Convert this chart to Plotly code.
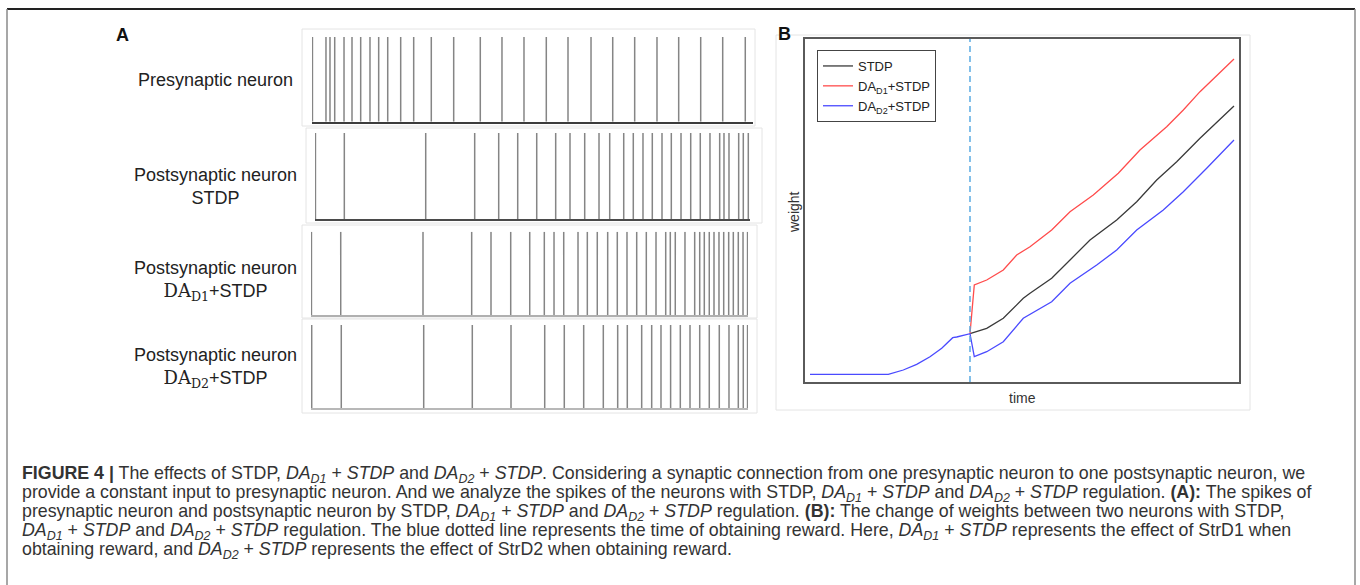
import plotly.graph_objects as go

W, H = 1360, 585

# ---------------- Panel A: spike rasters (time in % of each strip) ----------------
pre_spikes = [0.1, 3.17, 4.08, 5.15, 7.26, 9.07, 11.04, 13.15, 15.12, 17.17, 20.11, 23.06,
              27.05, 32.13, 38.16, 43.08, 48.07, 53.13, 58.05, 63.27, 68.19, 73.17, 78.23,
              83.15, 88.14, 93.13, 98.25]
post_stdp_spikes = [0.1, 6.74, 25.45, 36.71, 42.23, 46.60, 50.97, 55.33, 58.62, 62.00, 65.29,
                    67.75, 70.97, 73.17, 75.40, 77.54, 79.77, 81.91, 84.14, 86.37, 88.57,
                    90.80, 93.03, 94.02, 95.17, 97.40, 98.46, 99.61]
post_d1_spikes = [0.1, 6.80, 25.63, 36.77, 41.19, 45.70, 50.05, 53.39, 55.61, 57.83, 61.10,
                  63.23, 65.51, 67.89, 70.09, 72.31, 74.53, 76.73, 78.95, 81.17, 82.22, 83.36,
                  85.58, 87.80, 88.95, 90.00, 91.14, 92.22, 93.36, 94.44, 95.58, 96.64,
                  97.78, 98.86, 99.9]
post_d2_spikes = [0.16, 6.93, 25.79, 36.91, 45.77, 53.48, 57.96, 62.40, 66.89, 70.18, 72.38,
                  75.67, 77.96, 80.09, 82.29, 84.51, 86.73, 88.95, 91.14, 93.43, 95.65,
                  97.78, 98.92, 99.9]

raster_labels = [
    "Presynaptic neuron",
    "Postsynaptic neuron<br>STDP",
    "Postsynaptic neuron<br><span style=\"font-family:'DejaVu Serif'\">DA<sub>D1</sub></span>+STDP",
    "Postsynaptic neuron<br><span style=\"font-family:'DejaVu Serif'\">DA<sub>D2</sub></span>+STDP",
]

# ---------------- Panel B: weight vs time ----------------
time_pre = [1.15, 19.18, 22.63, 25.72, 28.78, 31.48, 34.01, 34.93, 37.99]
weight_pre = [2.24, 2.24, 3.50, 5.16, 7.38, 9.83, 12.92, 13.12, 14.08]

time_stdp = [41.84, 45.66, 50.26, 51.81, 56.80, 61.02, 65.62, 71.77, 76.38, 80.98, 85.59, 90.95, 98.78]
weight_stdp = [15.66, 18.57, 24.40, 25.86, 30.23, 35.57, 41.40, 47.23, 52.57, 58.89, 64.23, 71.05, 80.47]

time_d1 = [38.98, 41.84, 45.66, 48.74, 51.81, 56.80, 61.02, 66.38, 72.14, 77.13, 83.28, 87.11, 90.95, 98.78]
weight_d1 = [28.28, 29.74, 32.65, 37.03, 39.45, 44.31, 49.65, 54.52, 60.85, 67.64, 74.43, 79.30, 84.64, 94.17]

time_d2 = [38.98, 41.84, 45.66, 50.26, 56.80, 61.02, 67.17, 71.77, 76.38, 82.50, 87.11, 92.49, 98.78]
weight_d2 = [7.38, 8.83, 11.75, 18.57, 23.41, 28.78, 34.11, 38.48, 44.31, 50.15, 55.48, 62.30, 70.55]

reward_time = 37.99

series_names = ["STDP", "DA<sub>D1</sub>+STDP", "DA<sub>D2</sub>+STDP"]
series_colors = ["#3a3a3a", "#ff4c4c", "#4a4aff"]

caption_lines = [
    "<b>FIGURE 4 |</b> The effects of STDP, <i>DA<sub>D1</sub></i> + <i>STDP</i> and <i>DA<sub>D2</sub></i> + <i>STDP</i>. "
    "Considering a synaptic connection from one presynaptic neuron to one postsynaptic neuron, we",
    "provide a constant input to presynaptic neuron. And we analyze the spikes of the neurons with STDP, "
    "<i>DA<sub>D1</sub></i> + <i>STDP</i> and <i>DA<sub>D2</sub></i> + <i>STDP</i> regulation. <b>(A):</b> The spikes of",
    "presynaptic neuron and postsynaptic neuron by STDP, <i>DA<sub>D1</sub></i> + <i>STDP</i> and "
    "<i>DA<sub>D2</sub></i> + <i>STDP</i> regulation. <b>(B):</b> The change of weights between two neurons with STDP,",
    "<i>DA<sub>D1</sub></i> + <i>STDP</i> and <i>DA<sub>D2</sub></i> + <i>STDP</i> regulation. The blue dotted line "
    "represents the time of obtaining reward. Here, <i>DA<sub>D1</sub></i> + <i>STDP</i> represents the effect of StrD1 when",
    "obtaining reward, and <i>DA<sub>D2</sub></i> + <i>STDP</i> represents the effect of StrD2 when obtaining reward.",
]


def px(x):
    return x / W


def py(y):
    return 1 - y / H


fig = go.Figure()
layout = dict(
    width=W, height=H, margin=dict(l=0, r=0, t=0, b=0),
    paper_bgcolor="white", plot_bgcolor="white",
    font=dict(family="Liberation Sans, Arial, sans-serif", color="#222"),
    showlegend=True,
)

# raster strips: (spikes, x0, x1, ytop, ybase, baseline color)
strips = [
    (pre_spikes, 312, 753, 37, 121.7, "#3c3c3c"),
    (post_stdp_spikes, 315, 750, 133, 219.3, "#4a4a4a"),
    (post_d1_spikes, 311, 748, 231.7, 315, "#b0b0b0"),
    (post_d2_spikes, 311, 748, 325, 408.3, "#b8b8b8"),
]
for i, (sp, x0, x1, yt, yb, bc) in enumerate(strips):
    n = i + 1
    xs, ys = [], []
    for t in sp:
        xs += [t, t, None]
        ys += [0, 1, None]
    fig.add_trace(go.Scatter(x=xs, y=ys, mode="lines",
                             line=dict(color="#858585", width=1.5),
                             xaxis=f"x{n}" if n > 1 else "x",
                             yaxis=f"y{n}" if n > 1 else "y",
                             showlegend=False, hoverinfo="skip"))
    layout[f"xaxis{n}" if n > 1 else "xaxis"] = dict(
        domain=[px(x0), px(x1)], range=[0, 100], showline=True, linecolor=bc, linewidth=1.5,
        showticklabels=False, ticks="", showgrid=False, zeroline=False,
        anchor=f"y{n}" if n > 1 else "y")
    layout[f"yaxis{n}" if n > 1 else "yaxis"] = dict(
        domain=[py(yb), py(yt)], range=[0, 1], showline=False,
        showticklabels=False, ticks="", showgrid=False, zeroline=False,
        anchor=f"x{n}" if n > 1 else "x")

# panel B traces: the pre-reward segment is shared; only the blue one is visible there
series = [
    (time_pre[-1:] + time_stdp, weight_pre[-1:] + weight_stdp),
    (time_pre[-1:] + time_d1, weight_pre[-1:] + weight_d1),
    (time_pre + time_d2, weight_pre + weight_d2),
]
for (tx, wy), name, col in zip(series, series_names, series_colors):
    fig.add_trace(go.Scatter(x=tx, y=wy, mode="lines", name=name,
                             line=dict(color=col, width=1.3),
                             xaxis="x5", yaxis="y5"))

layout["xaxis5"] = dict(domain=[px(805), px(1239.3)], range=[0, 100], showline=True, mirror=True,
                        linecolor="#5a5a5a", linewidth=1.5, showticklabels=False, ticks="",
                        showgrid=False, zeroline=False, anchor="y5")
layout["yaxis5"] = dict(domain=[py(382), py(39)], range=[0, 100], showline=True, mirror=True,
                        linecolor="#5a5a5a", linewidth=1.5, showticklabels=False, ticks="",
                        showgrid=False, zeroline=False, anchor="x5")
layout["legend"] = dict(x=px(817), y=py(50), xanchor="left", yanchor="top",
                        bgcolor="white", bordercolor="#444", borderwidth=1,
                        font=dict(size=13, color="#222", family="Liberation Sans, Arial"),
                        tracegroupgap=0)

shapes = []
# outer figure frame
shapes.append(dict(type="line", xref="paper", yref="paper", x0=px(7), x1=px(1355), y0=py(9), y1=py(9),
                   line=dict(color="#222", width=2)))
shapes.append(dict(type="line", xref="paper", yref="paper", x0=px(7), x1=px(7), y0=py(9), y1=0,
                   line=dict(color="#8a8a8a", width=1.5)))
shapes.append(dict(type="line", xref="paper", yref="paper", x0=px(1355), x1=px(1355), y0=py(9), y1=0,
                   line=dict(color="#8a8a8a", width=1.5)))
# light frames of the raster strips
for (x0, x1, y0, y1) in [(302, 755, 29, 126), (306, 762, 128, 223), (302, 757, 225, 318), (302, 757, 319, 413)]:
    shapes.append(dict(type="rect", xref="paper", yref="paper", x0=px(x0), x1=px(x1), y0=py(y1), y1=py(y0),
                       line=dict(color="#e4e4e4", width=1), layer="below"))
# light frame of panel B
shapes.append(dict(type="rect", xref="paper", yref="paper", x0=px(776), x1=px(1250), y0=py(410), y1=py(35),
                   line=dict(color="#e4e4e4", width=1), layer="below"))
# reward marker
shapes.append(dict(type="line", xref="x5", yref="y5 domain", x0=reward_time, x1=reward_time, y0=0, y1=1,
                   line=dict(color="#5aaae2", width=1.5, dash="6px,4px")))
layout["shapes"] = shapes

ann = []


def add_text(text, x, y, size, color="#222", xanchor="center", yanchor="middle", **kw):
    ann.append(dict(text=text, x=px(x), y=py(y), xref="paper", yref="paper", showarrow=False,
                    xanchor=xanchor, yanchor=yanchor, font=dict(size=size, color=color,
                                                               family=kw.pop("family", "Liberation Sans, Arial")),
                    **kw))


add_text("<b>A</b>", 122, 35, 18, "#111")
add_text("<b>B</b>", 785, 34, 18, "#111")
for lab, yc in zip(raster_labels, [80, 186, 281, 368]):
    add_text(lab, 215, yc, 18, "#222", align="center")
add_text("time", 1022, 398, 14, "#333")
add_text("weight", 794, 212, 14, "#333", textangle=-90)
for k, line in enumerate(caption_lines):
    add_text(line, 20, 474 + 19 * k, 17.8, "#333", xanchor="left", family="Liberation Sans, Arial")
layout["annotations"] = ann

fig.update_layout(**layout)
fig.write_html("out.html")
